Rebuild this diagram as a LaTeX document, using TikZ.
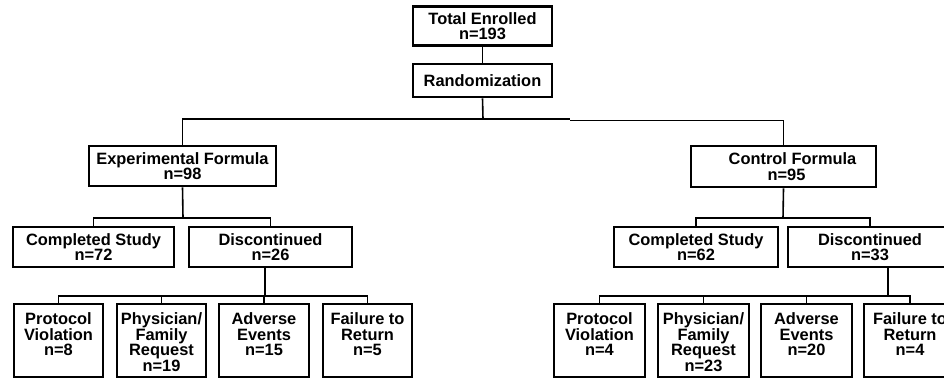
\documentclass[tikz,border=0pt]{standalone}
\usepackage{fontspec}
\setmainfont{Liberation Sans}
\begin{document}
\begin{tikzpicture}[x=1pt,y=-1pt,
  every node/.style={font=\fontsize{16.4}{15.5}\selectfont\bfseries},
  box/.style={draw=black, line width=2.6pt, inner sep=0pt, align=center, fill=white},
  lab/.style={inner sep=0pt, align=center, anchor=north},
  conn/.style={draw=black, line width=1.6pt}]
\clip (0,0) rectangle (944,380);
\fill[white] (0,0) rectangle (944,380);
% top
\node[box, minimum width=139pt, minimum height=39pt] (tot) at (482.5,26) {Total Enrolled\\n=193};
\node[box, minimum width=139pt, minimum height=33pt] (rand) at (482.5,80.5) {Randomization};
\node[box, minimum width=187pt, minimum height=40pt] (exp) at (182.5,166) {Experimental Formula\\n=98};
\node[box, minimum width=185pt, minimum height=41pt] (ctl) at (783.5,166.5) {\hspace*{18pt}Control Formula\\\hspace*{6pt}n=95};
% second level
\node[box, minimum width=161pt, minimum height=40pt] (cs1) at (93.5,247) {Completed Study\\n=72};
\node[box, minimum width=163pt, minimum height=40pt] (dc1) at (270.5,247) {Discontinued\\n=26};
\node[box, minimum width=164pt, minimum height=40pt] (cs2) at (696,247) {Completed Study\\n=62};
\node[box, minimum width=164pt, minimum height=40pt] (dc2) at (870,247) {Discontinued\\n=33};
% bottom boxes
\node[box, minimum width=89pt, minimum height=73pt] (pv1) at (58.5,340.5) {};
\node[box, minimum width=89pt, minimum height=73pt] (pf1) at (161.5,340.5) {};
\node[box, minimum width=90pt, minimum height=73pt] (ae1) at (264,340.5) {};
\node[box, minimum width=89pt, minimum height=73pt] (fr1) at (367.5,340.5) {};
\node[box, minimum width=91pt, minimum height=73pt] (pv2) at (599.5,340.5) {};
\node[box, minimum width=91pt, minimum height=73pt] (pf2) at (703.5,340.5) {};
\node[box, minimum width=91pt, minimum height=73pt] (ae2) at (806.5,340.5) {};
\node[box, minimum width=92pt, minimum height=73pt] (fr2) at (910,340.5) {};
\node[lab, yshift=-10pt] (tpv1) at (pv1.north) {Protocol\\Violation\\n=8};
\node[lab, yshift=-10pt] (tpf1) at (pf1.north) {Physician/\\Family\\Request\\n=19};
\node[lab, yshift=-10pt] (tae1) at (ae1.north) {Adverse\\Events\\n=15};
\node[lab, yshift=-10pt] (tfr1) at (fr1.north) {Failure to\\Return\\n=5};
\node[lab, yshift=-10pt] (tpv2) at (pv2.north) {Protocol\\Violation\\n=4};
\node[lab, yshift=-10pt] (tpf2) at (pf2.north) {Physician/\\Family\\Request\\n=23};
\node[lab, yshift=-10pt] (tae2) at (ae2.north) {Adverse\\Events\\n=20};
\node[lab, yshift=-10pt] (tfr2) at (fr2.north) {Failure to\\Return\\n=4};
% junction coordinates
\coordinate (jT) at (483,119);
\coordinate (jS1) at (570,119);
\coordinate (jS2) at (570,120.5);
\coordinate (eJ) at (183,218);
\coordinate (cJ) at (783,218);
\coordinate (dJ1) at (265,296);
\coordinate (dJ2) at (888,296);
% connectors
\draw[conn] (tot.south) -- (rand.north);
\draw[conn] (rand.south) -- (jT);
\draw[conn] (exp.north) |- (jS1);
\draw[conn] (jS2) -| (ctl.north);
\draw[conn] (exp.south) -- (eJ);
\draw[conn] (cs1.north) |- (eJ) -| (dc1.north);
\draw[conn] (ctl.south) -- (cJ);
\draw[conn] (cs2.north) |- (cJ) -| (dc2.north);
\draw[conn] (dc1.south -| dJ1) -- (dJ1);
\draw[conn] (pv1.north) |- (dJ1) -| (fr1.north);
\draw[conn] (pf1.north) -- (pf1.north |- dJ1);
\draw[conn] (ae1.north) -- (ae1.north |- dJ1);
\draw[conn] (dc2.south -| dJ2) -- (dJ2);
\draw[conn] (pv2.north) |- (dJ2) -| (fr2.north);
\draw[conn] (pf2.north) -- (pf2.north |- dJ2);
\draw[conn] (ae2.north) -- (ae2.north |- dJ2);
\end{tikzpicture}
\end{document}
